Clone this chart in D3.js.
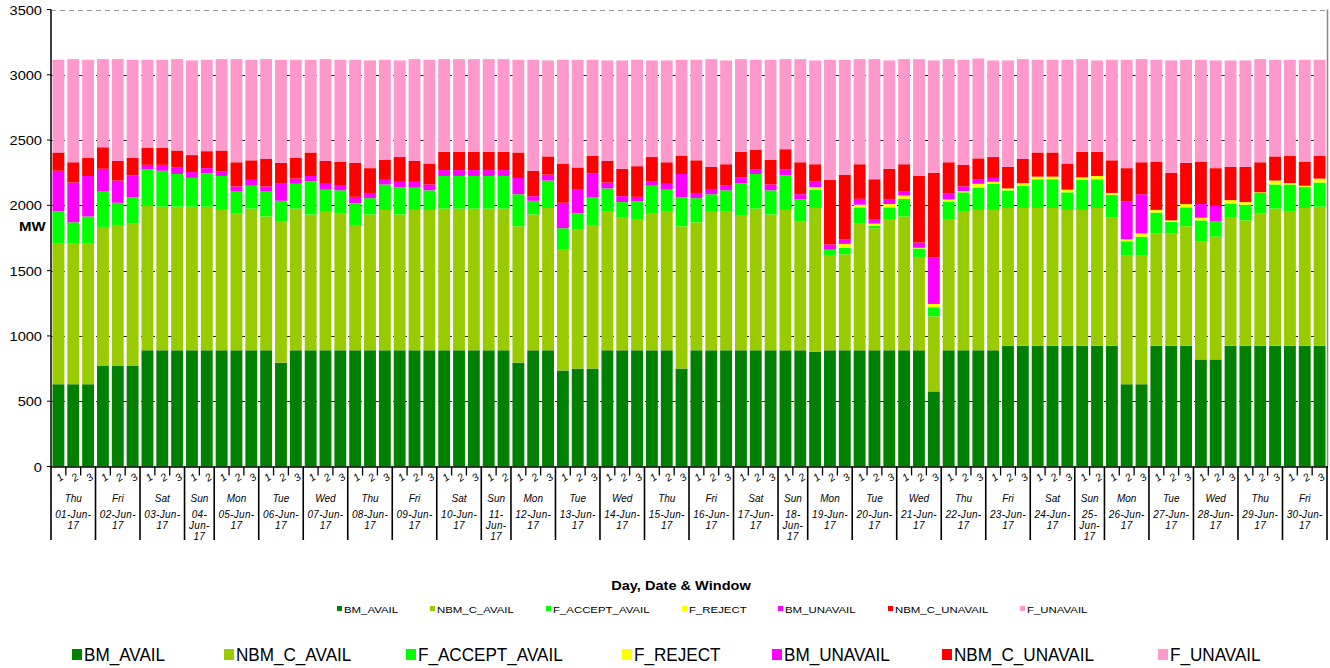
<!DOCTYPE html>
<html>
<head>
<meta charset="utf-8">
<script src="https://cdn.jsdelivr.net/npm/d3@7"></script>
<style>
  body { margin: 0; background: #fff; }
  svg { display: block; }
  text { font-family: Arial, "Liberation Sans", sans-serif; fill: #000; }
</style>
</head>
<body>
<svg id="chart" width="1330" height="668"></svg>
<script>
// ---- data ----
var dayNames = ["Thu","Fri","Sat","Sun","Mon","Tue","Wed","Thu","Fri","Sat","Sun","Mon","Tue","Wed","Thu",
                "Fri","Sat","Sun","Mon","Tue","Wed","Thu","Fri","Sat","Sun","Mon","Tue","Wed","Thu","Fri"];
var dates = ["01-Jun-17","02-Jun-17","03-Jun-17","04-Jun-17","05-Jun-17","06-Jun-17","07-Jun-17","08-Jun-17",
             "09-Jun-17","10-Jun-17","11-Jun-17","12-Jun-17","13-Jun-17","14-Jun-17","15-Jun-17","16-Jun-17",
             "17-Jun-17","18-Jun-17","19-Jun-17","20-Jun-17","21-Jun-17","22-Jun-17","23-Jun-17","24-Jun-17",
             "25-Jun-17","26-Jun-17","27-Jun-17","28-Jun-17","29-Jun-17","30-Jun-17"];
var windowsPerDay = [3,3,3,2,3,3,3,3,3,3,2,3,3,3,3,3,3,2,3,3,3,3,3,3,2,3,3,3,3,3];

var seriesNames = ["BM_AVAIL","NBM_C_AVAIL","F_ACCEPT_AVAIL","F_REJECT","BM_UNAVAIL","NBM_C_UNAVAIL","F_UNAVAIL"];

var BM_AVAIL = [630,630,630, 770,770,770, 890,890,890, 890,890, 890,890,890, 890,795,890, 890,890,890,
  890,890,890, 890,890,890, 890,890,890, 890,890, 795,890,890, 735,750,750, 890,890,890, 890,890,750,
  890,890,890, 890,890,890, 890,890, 880,890,890, 890,890,890, 890,890,575, 890,890,890, 890,925,925,
  925,925,925, 925,925, 925,630,630, 925,925,925, 820,820,925, 925,925,925, 925,925,925];
var NBM_C_AVAIL = [1080,1080,1080, 1065,1080,1090, 1105,1100,1100, 1100,1100, 1075,1050,1085, 1025,1080,1085,
  1040,1060,1050, 960,1040,1075, 1040,1075,1075, 1085,1085,1085, 1085,1085, 1045,1040,1090, 930,1065,1100,
  1065,1015,1000, 1050,1065,1090, 980,1060,1065, 1035,1085,1040, 1075,985, 1100,730,735, 970,935,1000,
  1025,715,575, 1000,1065,1075, 1075,1055,1055, 1055,1055,1040, 1040,1055, 985,985,985, 860,860,915,
  905,940,980, 960,1015,1050, 1030,1055,1065];
var F_ACCEPT_AVAIL = [245,160,205, 270,170,200, 280,275,250, 220,255, 260,165,175, 190,160,190, 255,170,175,
  165,125,195, 210,170,150, 250,250,250, 250,250, 245,105,210, 160,125,210, 175,120,140, 210,165,220,
  185,135,160, 245,265,185, 265,170, 140,40,50, 125,20,95, 135,65,70, 140,145,170, 200,135,170,
  220,220,135, 230,220, 170,110,145, 160,90,145, 160,120,110, 120,155,185, 205,160,185];
var F_REJECT = [0,0,0, 0,0,0, 0,0,0, 0,0, 0,0,0, 0,0,0, 0,0,0, 0,0,0, 0,0,0, 0,0,0, 0,0, 0,0,0, 0,0,0,
  0,0,0, 0,0,0, 0,0,0, 0,0,0, 0,0, 20,0,30, 20,15,25, 25,5,25, 15,10,30, 15,15,20, 20,20,20, 20,25,
  15,15,25, 20,10,25, 20,0,25, 20,5,30, 10,10,30];
var BM_UNAVAIL = [310,305,310, 175,170,170, 35,45,50, 45,40, 35,40,45, 40,135,40, 40,45,35, 50,40,35,
  40,45,45, 45,45,45, 45,45, 125,35,45, 195,185,185, 45,45,35, 35,45,180, 40,40,40, 45,35,45, 45,40,
  45,40,35, 45,35,35, 30,40,355, 45,35,35, 30,0,0, 0,0,0, 0,0, 0,290,300, 0,0,0, 105,115,0, 0,0,0, 0,0,0];
var NBM_C_UNAVAIL = [140,155,140, 165,150,135, 130,130,130, 130,130, 160,185,150, 210,155,160, 180,175,185,
  260,190,155, 190,160,160, 140,140,140, 140,140, 195,195,140, 300,165,135, 165,210,235, 185,165,140,
  250,170,160, 195,150,190, 155,245, 130,495,495, 265,305,235, 210,510,650, 240,165,160, 160,165,185,
  185,185,200, 195,185, 250,255,245, 370,365,315, 325,290,255, 270,230,185, 210,185,175];
var F_UNAVAIL = [710,790,750, 675,780,750, 675,675,700, 725,700, 700,790,770, 765,790,750, 710,780,780,
  790,825,765, 740,780,795, 710,710,710, 710,710, 710,850,735, 795,825,735, 770,830,815, 740,780,735,
  770,825,795, 710,690,765, 690,790, 795,920,880, 805,920,830, 805,895,860, 790,805,765, 740,815,765,
  710,710,795, 710,700, 770,830,790, 780,860,790, 780,825,815, 815,790,740, 735,780,735];

var yTicks = [0,500,1000,1500,2000,2500,3000,3500];

// ---- styles / layout ----
var colours = ["#008000","#99cc00","#00ff00","#ffff00","#ff00ff","#ff0000","#ff99cc"];
var plotLeft = 51, plotRight = 1327, plotTop = 9.5, plotBottom = 466.5;
var smallLegendX = [337,430,546,682,778,888,1020];
var bigLegendX = [72,224,406,622,772,942,1158];

var svg = d3.select('#chart');

// build one row per bar
var seriesData = [BM_AVAIL, NBM_C_AVAIL, F_ACCEPT_AVAIL, F_REJECT, BM_UNAVAIL, NBM_C_UNAVAIL, F_UNAVAIL];
var rows = [];
var k = 0;
dayNames.forEach(function(day, i) {
  for (var w = 1; w <= windowsPerDay[i]; w++) {
    var r = { key: i + '-' + w, day: i, win: w };
    seriesNames.forEach(function(s, j) { r[s] = seriesData[j][k]; });
    rows.push(r);
    k++;
  }
});

var x = d3.scaleBand().domain(rows.map(function(d) { return d.key; }))
  .range([plotLeft, plotRight]).paddingInner(0.2).paddingOuter(0.1);
var y = d3.scaleLinear().domain([0, 3500]).range([plotBottom, plotTop]);
var color = d3.scaleOrdinal().domain(seriesNames).range(colours);

function stretch(sel, f) {
  sel.each(function() {
    var w = this.getComputedTextLength();
    d3.select(this).attr('textLength', w * f).attr('lengthAdjust', 'spacingAndGlyphs');
  });
}

// gridlines
svg.append('g').selectAll('line').data(yTicks.slice(1)).enter().append('line')
  .attr('x1', plotLeft).attr('x2', plotRight)
  .attr('y1', function(d) { return Math.round(y(d)) + 0.5; })
  .attr('y2', function(d) { return Math.round(y(d)) + 0.5; })
  .attr('stroke', function(d) { return d == 3500 ? '#999' : '#222'; })
  .attr('stroke-width', 1)
  .attr('stroke-dasharray', '5,4');

// right border
svg.append('line').attr('x1', plotRight + 0.5).attr('x2', plotRight + 0.5).attr('y1', plotTop).attr('y2', plotBottom)
  .attr('stroke', '#888').attr('stroke-width', 1.5);

// bars
var stacked = d3.stack().keys(seriesNames)(rows);
svg.append('g').selectAll('g').data(stacked).enter().append('g')
  .attr('fill', function(d) { return color(d.key); })
  .selectAll('rect').data(function(d) { return d; }).enter().append('rect')
  .attr('x', function(d) { return x(d.data.key); })
  .attr('width', x.bandwidth())
  .attr('y', function(d) { return y(d[1]); })
  .attr('height', function(d) { return y(d[0]) - y(d[1]); });

// y axis
svg.append('line').attr('x1', plotLeft).attr('x2', plotLeft).attr('y1', plotTop).attr('y2', plotBottom + 1)
  .attr('stroke', '#000').attr('stroke-width', 1.5);
svg.append('g').selectAll('line').data(yTicks).enter().append('line')
  .attr('x1', plotLeft - 4).attr('x2', plotLeft)
  .attr('y1', function(d) { return y(d); }).attr('y2', function(d) { return y(d); })
  .attr('stroke', '#000');
var yl = svg.append('g').selectAll('text').data(yTicks).enter().append('text')
  .attr('x', 42).attr('y', function(d) { return y(d) + 5; })
  .attr('text-anchor', 'end').attr('font-size', 13.5)
  .text(function(d) { return d; });
stretch(yl, 1.08);

var mw = svg.append('text').attr('x', 19).attr('y', 231).attr('font-size', 12).attr('font-weight', 'bold').text('MW');
stretch(mw, 1.25);

// x axis
svg.append('line').attr('x1', plotLeft).attr('x2', plotRight + 1).attr('y1', plotBottom + 0.5).attr('y2', plotBottom + 0.5)
  .attr('stroke', '#000').attr('stroke-width', 1.5);

var half = (x.step() - x.bandwidth()) / 2;
// window ticks
svg.append('g').selectAll('line').data(rows.filter(function(d) { return d.win > 1; })).enter().append('line')
  .attr('x1', function(d) { return x(d.key) - half; })
  .attr('x2', function(d) { return x(d.key) - half; })
  .attr('y1', plotBottom).attr('y2', plotBottom + 9)
  .attr('stroke', '#000').attr('stroke-width', 1.3);

// day separators
var dayStarts = rows.filter(function(d) { return d.win == 1; }).map(function(d) { return x(d.key) - half; });
dayStarts.push(plotRight);
svg.append('g').selectAll('line').data(dayStarts).enter().append('line')
  .attr('x1', function(d) { return d; }).attr('x2', function(d) { return d; })
  .attr('y1', plotBottom).attr('y2', 540)
  .attr('stroke', '#000').attr('stroke-width', 1.6);

// window numbers
svg.append('g').selectAll('text').data(rows).enter().append('text')
  .attr('transform', function(d) {
    return 'translate(' + (x(d.key) + x.bandwidth() / 2 + 2) + ',478) rotate(-35)';
  })
  .attr('text-anchor', 'middle').attr('dominant-baseline', 'middle')
  .attr('font-size', 10.5).attr('font-style', 'italic')
  .text(function(d) { return d.win; });

// day and date labels
var days = dayNames.map(function(n, i) {
  return { name: n, date: dates[i], x0: dayStarts[i], x1: dayStarts[i + 1], n: windowsPerDay[i] };
});
var dg = svg.append('g').selectAll('g').data(days).enter().append('g')
  .attr('transform', function(d) { return 'translate(' + ((d.x0 + d.x1) / 2) + ',0)'; });
dg.append('text').attr('y', 502).attr('text-anchor', 'middle').attr('font-size', 10)
  .attr('font-style', 'italic').text(function(d) { return d.name; });
dg.each(function(d) {
  var p = d.date.split('-');
  var lines = d.n == 2 ? [p[0] + '-', p[1] + '-', p[2]] : [p[0] + '-' + p[1] + '-', p[2]];
  d3.select(this).selectAll('.dl').data(lines).enter().append('text')
    .attr('y', function(t, i) { return 518 + i * 11; })
    .attr('text-anchor', 'middle').attr('font-size', 10).attr('font-style', 'italic')
    .attr('letter-spacing', 0.3)
    .text(function(t) { return t; });
});

// axis title
var title = svg.append('text').attr('x', 681).attr('y', 590).attr('text-anchor', 'middle')
  .attr('font-size', 13).attr('font-weight', 'bold').text('Day, Date & Window');
stretch(title, 1.12);

// small legend
var sl = svg.append('g').selectAll('g').data(seriesNames).enter().append('g')
  .attr('transform', function(d, i) { return 'translate(' + smallLegendX[i] + ',0)'; });
sl.append('rect').attr('x', 0).attr('y', 606).attr('width', 5).attr('height', 5)
  .attr('fill', function(d) { return color(d); });
var slt = sl.append('text').attr('x', 7).attr('y', 612.5).attr('font-size', 9.5).text(function(d) { return d; });
stretch(slt, 1.2);

// big legend
var bl = svg.append('g').selectAll('g').data(seriesNames).enter().append('g')
  .attr('transform', function(d, i) { return 'translate(' + bigLegendX[i] + ',0)'; });
bl.append('rect').attr('x', 0).attr('y', 649).attr('width', 10).attr('height', 11)
  .attr('fill', function(d) { return color(d); });
var blt = bl.append('text').attr('x', 12).attr('y', 661).attr('font-size', 19).text(function(d) { return d; });
stretch(blt, 0.9);
</script>
</body>
</html>
